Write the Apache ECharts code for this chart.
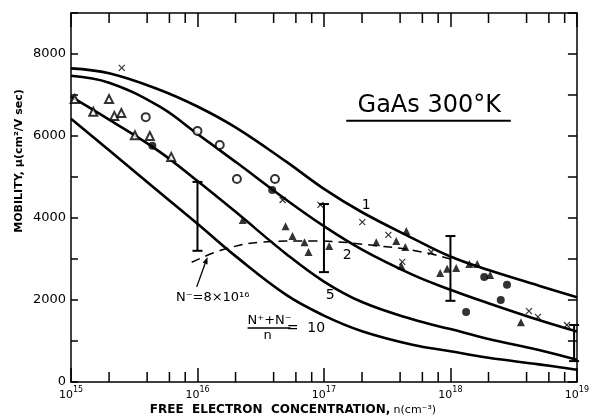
<!DOCTYPE html>
<html>
<head>
<meta charset="utf-8">
<script src="https://cdn.jsdelivr.net/npm/echarts@6.0.0/dist/echarts.min.js"></script>
<style>
html,body{margin:0;padding:0;background:#fff;}
#chart{width:592px;height:418px;}
</style>
</head>
<body>
<div id="chart"></div>
<script>
// ---------- data ----------
const curveN  = [1e15, 2e15, 5e15, 1e16, 2e16, 5e16, 1e17, 2e17, 5e17, 1e18, 2e18, 5e18, 1e19];
const curve1  = [7650, 7530, 7130, 6720, 6210, 5380, 4710, 4140, 3510, 3060, 2730, 2350, 2070];
const curve2  = [7470, 7300, 6720, 6050, 5370, 4450, 3800, 3230, 2620, 2250, 1920, 1510, 1230];
const curve5  = [6960, 6400, 5620, 4900, 4150, 3130, 2450, 1950, 1530, 1290, 1050,  780,  540];
const curve10 = [6420, 5650, 4630, 3860, 3070, 2130, 1620, 1240,  910,  750,  590,  430,  300];

const dashN  = [9e15, 1.6e16, 3.2e16, 8e16, 2.7e17, 6e17, 1e18];
const dashMu = [2920, 3230, 3410, 3440, 3320, 3170, 3000];

const openTriN  = [1.07e15, 1.5e15, 2.0e15, 2.2e15, 2.5e15, 3.2e15, 4.2e15, 6.2e15];
const openTriMu = [6900, 6590, 6900, 6490, 6560, 6020, 6000, 5490];

const openCircN  = [3.9e15, 1.0e16, 1.5e16, 2.05e16, 4.1e16];
const openCircMu = [6460, 6120, 5780, 4950, 4950];

const fillCircN  = [4.4e15, 3.9e16, 1.33e18, 1.85e18, 2.5e18, 2.8e18];
const fillCircMu = [5760, 4680, 1710, 2560, 2000, 2370];

const fillTriN  = [2.28e16, 4.97e16, 5.64e16, 7.02e16, 7.55e16, 1.10e17, 2.59e17, 3.73e17, 4.48e17,
                   4.40e17, 4.09e17, 8.30e17, 9.42e17, 1.11e18, 1.41e18, 1.63e18, 2.06e18, 3.61e18];
const fillTriMu = [3950, 3800, 3560, 3410, 3170, 3320, 3410, 3440, 3680,
                   3290, 2830, 2660, 2760, 2780, 2880, 2880, 2610, 1460];

const crossN  = [2.52e15, 4.71e16, 9.38e16, 2.01e17, 3.23e17, 4.16e17, 7.05e17, 4.18e18, 4.92e18, 8.34e18];
const crossMu = [7660, 4440, 4320, 3900, 3590, 2930, 3170, 1730, 1590, 1390];

const errN    = [1e16, 1e17, 1e18, 9.5e18];
const errLow  = [3200, 2680, 1980, 510];
const errHigh = [4880, 4340, 3560, 1390];

const xMinorTicks = [2e15, 4e15, 6e15, 8e15, 2e16, 4e16, 6e16, 8e16,
                     2e17, 4e17, 6e17, 8e17, 2e18, 4e18, 6e18, 8e18];
const yTickLabels = ['0', '2000', '4000', '6000', '8000'];

// ---------- chart ----------
const FONT = '"DejaVu Sans", sans-serif';
const pairs = (xs, ys) => xs.map((x, i) => [x, ys[i]]);
const chart = echarts.init(document.getElementById('chart'), null, {renderer: 'canvas'});

const curveLine = {color: '#000', width: 2.6};
function curveSeries(name, ys) {
  return {name, type: 'line', data: pairs(curveN, ys), smooth: 0.4,
    showSymbol: false, symbol: 'none', lineStyle: curveLine, silent: true, z: 3};
}
function scatterSeries(name, xs, ys, symbol, size, itemStyle) {
  return {name, type: 'scatter', data: pairs(xs, ys), symbol, symbolSize: size,
    itemStyle, silent: true, z: 5};
}

const axisLineStyle = {color: '#000', width: 1.5};
const option = {
  animation: false,
  backgroundColor: '#fff',
  grid: {left: 71, right: 14, top: 13, bottom: 36},
  xAxis: [
    {type: 'log', logBase: 10, min: 1e15, max: 1e19, position: 'bottom',
      axisLine: {onZero: false, lineStyle: axisLineStyle},
      axisTick: {inside: true, length: 14, lineStyle: axisLineStyle},
      splitLine: {show: false},
      axisLabel: {margin: 7, color: '#000',
        formatter: v => '{b|10}{s|' + Math.round(Math.log10(v)) + '}',
        rich: {
          b: {fontFamily: FONT, fontSize: 11, color: '#000', verticalAlign: 'bottom', lineHeight: 12},
          s: {fontFamily: FONT, fontSize: 8, color: '#000', verticalAlign: 'bottom', lineHeight: 9, padding: [0, 0, 7, 0]}
        }}},
    {type: 'log', logBase: 10, min: 1e15, max: 1e19, position: 'top',
      axisLine: {onZero: false, lineStyle: axisLineStyle},
      axisTick: {inside: true, length: 14, lineStyle: axisLineStyle},
      splitLine: {show: false}, axisLabel: {show: false}}
  ],
  yAxis: [
    {type: 'value', min: 0, max: 9000, interval: 1000, position: 'left',
      axisLine: {show: true, onZero: false, lineStyle: axisLineStyle},
      axisTick: {show: true, inside: true, length: 7, lineStyle: axisLineStyle},
      splitLine: {show: false},
      axisLabel: {margin: 5, color: '#000', fontFamily: FONT, fontSize: 13,
        formatter: v => yTickLabels.indexOf(String(v)) >= 0 ? String(v) : ''}},
    {type: 'value', min: 0, max: 9000, interval: 1000, position: 'right',
      axisLine: {show: true, onZero: false, lineStyle: axisLineStyle},
      axisTick: {show: true, inside: true, length: 9, lineStyle: axisLineStyle},
      splitLine: {show: false}, axisLabel: {show: false}}
  ],
  series: [
    curveSeries('1', curve1),
    curveSeries('2', curve2),
    curveSeries('5', curve5),
    curveSeries('10', curve10),
    {name: 'N- = 8e16', type: 'line', data: pairs(dashN, dashMu), smooth: 0.4,
      showSymbol: false, symbol: 'none', silent: true, z: 3,
      lineStyle: {color: '#000', width: 1.5, type: [9, 6]}},
    {name: 'error bars', type: 'custom', silent: true, clip: false, z: 4,
      data: errN.map((n, i) => [n, errLow[i], errHigh[i]]),
      encode: {x: 0, y: [1, 2]},
      renderItem: function (params, api) {
        const x = api.value(0);
        const a = api.coord([x, api.value(1)]);
        const b = api.coord([x, api.value(2)]);
        const w = 5, st = {stroke: '#000', lineWidth: 2};
        return {type: 'group', children: [
          {type: 'line', shape: {x1: a[0], y1: a[1], x2: b[0], y2: b[1]}, style: st},
          {type: 'line', shape: {x1: a[0] - w, y1: a[1], x2: a[0] + w, y2: a[1]}, style: st},
          {type: 'line', shape: {x1: b[0] - w, y1: b[1], x2: b[0] + w, y2: b[1]}, style: st}
        ]};
      }},
    {name: 'minor ticks', type: 'custom', silent: true, clip: false, z: 2,
      data: xMinorTicks.map(v => [v, 0]),
      encode: {x: 0, y: 1},
      renderItem: function (params, api) {
        const v = api.value(0);
        const lo = api.coord([v, 0]);
        const hi = api.coord([v, 9000]);
        const st = {stroke: '#000', lineWidth: 1.5};
        return {type: 'group', children: [
          {type: 'line', shape: {x1: lo[0], y1: lo[1], x2: lo[0], y2: lo[1] - 10}, style: st},
          {type: 'line', shape: {x1: hi[0], y1: hi[1], x2: hi[0], y2: hi[1] + 10}, style: st}
        ]};
      }},
    scatterSeries('open triangles', openTriN, openTriMu, 'emptyTriangle', 8,
      {color: '#000', borderColor: '#000', borderWidth: 1.1}),
    scatterSeries('open circles', openCircN, openCircMu, 'emptyCircle', 8,
      {color: '#000', borderColor: '#000', borderWidth: 1.1}),
    scatterSeries('filled circles', fillCircN, fillCircMu, 'circle', 8, {color: '#000'}),
    scatterSeries('filled triangles', fillTriN, fillTriMu, 'triangle', 8, {color: '#000'}),
    scatterSeries('crosses', crossN, crossMu, 'path://M0,0L10,10M10,0L0,10', 6,
      {color: 'rgba(0,0,0,0)', borderColor: '#000', borderWidth: 1.2})
  ]
};
chart.setOption(option);

// ---------- annotations placed through the chart's own scales ----------
const px = (n, mu) => chart.convertToPixel({xAxisIndex: 0, yAxisIndex: 0}, [n, mu]);
function txt(n, mu, text, size) {
  const p = px(n, mu);
  return {type: 'text', x: p[0], y: p[1], silent: true, z: 10,
    style: {text, fill: '#000', font: size + 'px ' + FONT, align: 'center', verticalAlign: 'middle'}};
}
function seg(n1, mu1, n2, mu2, width) {
  const a = px(n1, mu1), b = px(n2, mu2);
  return {type: 'line', silent: true, z: 10, shape: {x1: a[0], y1: a[1], x2: b[0], y2: b[1]},
    style: {stroke: '#000', lineWidth: width}};
}
const arrA = px(9.86e15, 2320), arrB = px(1.2e16, 3050);
const ang = Math.atan2(arrB[1] - arrA[1], arrB[0] - arrA[0]);
const hl = 7, hw = 2.6;
const back = [arrB[0] - hl * Math.cos(ang), arrB[1] - hl * Math.sin(ang)];
const arrowHead = {type: 'polygon', silent: true, z: 10,
  shape: {points: [arrB,
    [back[0] + hw * Math.sin(ang), back[1] - hw * Math.cos(ang)],
    [back[0] - hw * Math.sin(ang), back[1] + hw * Math.cos(ang)]]},
  style: {fill: '#000'}};
const arrowShaft = {type: 'line', silent: true, z: 10,
  shape: {x1: arrA[0], y1: arrA[1], x2: back[0], y2: back[1]}, style: {stroke: '#000', lineWidth: 1.3}};

chart.setOption({graphic: [
  txt(6.8e17, 6730, 'GaAs 300°K', 24),
  seg(1.5e17, 6370, 3.0e18, 6370, 2),
  txt(2.16e17, 4320, '1', 14),
  txt(1.53e17, 3100, '2', 14),
  txt(1.12e17, 2120, '5', 14),
  txt(1.32e16, 2070, 'N⁻=8×10¹⁶', 13),
  arrowShaft,
  arrowHead,
  txt(3.72e16, 1490, 'N⁺+N⁻', 13),
  seg(2.49e16, 1317, 5.45e16, 1317, 1.3),
  txt(3.58e16, 1120, 'n', 13),
  txt(7.2e16, 1317, '=  10', 14),
  {type: 'text', x: 293, y: 410, silent: true, z: 10,
    style: {text: '{a|FREE  ELECTRON  CONCENTRATION,} {b|n(cm⁻³)}',
      align: 'center', verticalAlign: 'middle',
      rich: {a: {fontFamily: FONT, fontSize: 12, fontWeight: 'bold', fill: '#000', color: '#000'},
             b: {fontFamily: FONT, fontSize: 11, fill: '#000', color: '#000'}}}},
  {type: 'text', x: 19, y: 161, rotation: Math.PI / 2, silent: true, z: 10,
    style: {text: 'MOBILITY, μ(cm²/V sec)', fill: '#000', font: 'bold 11px ' + FONT,
      align: 'center', verticalAlign: 'middle'}}
]});
</script>
</body>
</html>
